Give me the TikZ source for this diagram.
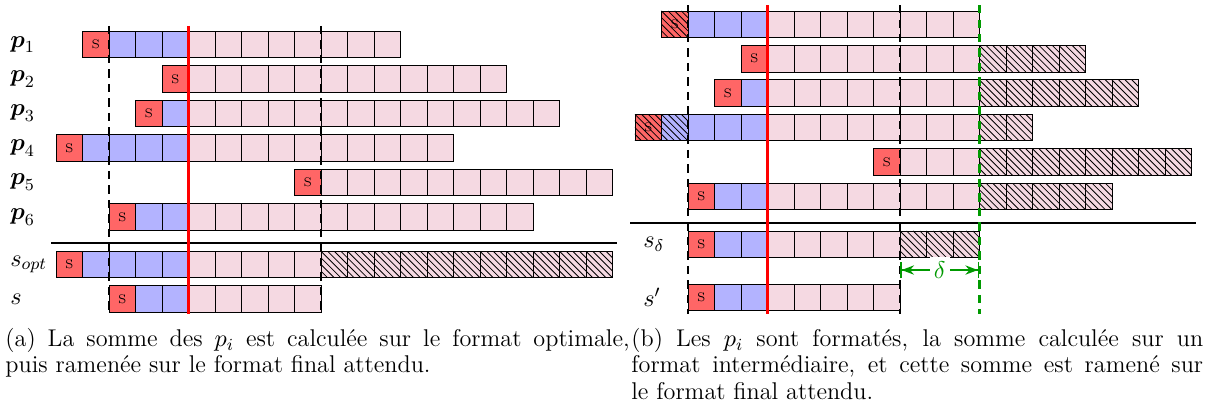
\RequirePackage{fix-cm}
\documentclass[tikz,border=0pt]{standalone}
\usepackage{fontspec}
\usepackage{amsmath,amssymb}
\usetikzlibrary{arrows.meta}
\definecolor{sgnred}{HTML}{FF6666}
\definecolor{mantblue}{HTML}{B3B3FF}
\definecolor{fracpink}{HTML}{F5D9E2}
\definecolor{deltagreen}{HTML}{009900}

% one row of cells: name, top, sign column, end column
\newcommand{\bitrow}[4]{%
  \pgfmathtruncatemacro{\fracstart}{max(3,#3+1)}%
  \pgfmathtruncatemacro{\lastcol}{#4-1}%
  \fill[sgnred] (#3,#2) rectangle ++(1,1);
  \ifnum#3<2 \fill[mantblue] (#3+1,#2) rectangle (3,#2+1);\fi
  \fill[fracpink] (\fracstart,#2) rectangle (#4,#2+1);
  \foreach \col in {#3,...,\lastcol}
    \draw[line width=0.4pt] (\col,#2) rectangle ++(1,1);
  \node[font=\fontsize{6}{7}\selectfont,inner sep=0pt] (#1) at (#3+0.5,#2+0.5) {S};
}
% hatched cells: from column, to column, top
\newcommand{\hatchbox}[3]{%
  \begin{scope}
    \clip (#1,#3) rectangle (#2,#3+1);
    \pgfmathsetmacro{\hend}{#2-#1}
    \foreach \t in {-1,-0.75,...,\hend}
      \draw[line width=0.4pt] (#1+\t,#3) -- ++(1,1);
  \end{scope}}

\begin{document}
\begin{tikzpicture}[x=0.45cm, y=-0.45cm,
    font=\fontsize{11.7}{12.6}\selectfont,
    bound/.style={line width=1pt, dash pattern=on 4pt off 3pt},
    lbl/.style={anchor=west, inner sep=0pt}]
  \useasboundingbox (0,0) rectangle (46.15,15.55);

  % (a) optimal format
  \begin{scope}[shift={(4.113,0)}]
    \bitrow{sp1}{1.18}{-1}{11}
    \bitrow{sp2}{2.48}{2}{15}
    \bitrow{sp3}{3.78}{1}{17}
    \bitrow{sp4}{5.08}{-2}{13}
    \bitrow{sp5}{6.38}{7}{19}
    \bitrow{sp6}{7.68}{0}{16}
    \bitrow{sopt}{9.48}{-2}{19}
    \bitrow{sfin}{10.78}{0}{8}
    \hatchbox{8}{19}{9.48}

    \draw[thick] (-2.17,9.18) -- (19.17,9.18);
    \draw[bound] (0,0.98) -- (0,11.85);
    \draw[bound] (8,0.98) -- (8,11.85);
    \draw[line width=1pt,red] (3,0.98) -- (3,11.85);

    \foreach \i in {1,...,6}
      \node[lbl] (lp\i) at (-3.74,{1.68+1.3*(\i-1)}) {$\boldsymbol{p}_\i$};
    \node[lbl] (lopt) at (-3.74,9.98) {$s_{opt}$};
    \node[lbl] (lfin) at (-3.74,11.28) {$s$};
  \end{scope}

  % (b) intermediate format
  \begin{scope}[shift={(25.96,0)}]
    \bitrow{sq1}{0.415}{-1}{11}
    \bitrow{sq2}{1.715}{2}{15}
    \bitrow{sq3}{3.015}{1}{17}
    \bitrow{sq4}{4.315}{-2}{13}
    \bitrow{sq5}{5.615}{7}{19}
    \bitrow{sq6}{6.915}{0}{16}
    \bitrow{sdel}{8.715}{0}{11}
    \bitrow{sprm}{10.715}{0}{8}
    \hatchbox{-1}{0}{0.415}
    \hatchbox{-2}{0}{4.315}
    \hatchbox{11}{15}{1.715}
    \hatchbox{11}{17}{3.015}
    \hatchbox{11}{13}{4.315}
    \hatchbox{11}{19}{5.615}
    \hatchbox{11}{16}{6.915}
    \hatchbox{8}{11}{8.715}

    \draw[thick] (-2.17,8.415) -- (19.17,8.415);
    \draw[bound] (0,0.19) -- (0,11.85);
    \draw[bound] (8,0.19) -- (8,11.85);
    \draw[bound,draw=deltagreen] (11,0.19) -- (11,11.85);
    \draw[line width=1pt,red] (3,0.19) -- (3,11.85);

    \coordinate (dA) at (8,10.19);
    \coordinate (dB) at (11,10.19);
    \draw[thick,deltagreen,{Bar[width=8pt]Stealth[length=6pt]}-{Stealth[length=6pt]Bar[width=8pt]}]
      (dA) -- node[fill=white,inner sep=2pt,text=deltagreen] (dlab) {$\delta$} (dB);

    \node[lbl] (ldel) at (-1.7,9.215) {$s_\delta$};
    \node[lbl] (lprm) at (-1.7,11.215) {$s'$};
  \end{scope}

  % captions
  \node[anchor=base west,inner sep=0pt,text width=10.6cm,align=justify] (capa) at (0.19,13.09)
    {(a) La somme des $p_i$ est calculée sur le format optimale,\linebreak
     puis ramenée sur le format final attendu.};
  \node[anchor=base west,inner sep=0pt,text width=9.71cm,align=justify] (capb) at (23.81,13.09)
    {(b) Les $p_i$ sont formatés, la somme calculée sur un\linebreak
     format intermédiaire, et cette somme est ramené sur\linebreak
     le format final attendu.};
\end{tikzpicture}
\end{document}
